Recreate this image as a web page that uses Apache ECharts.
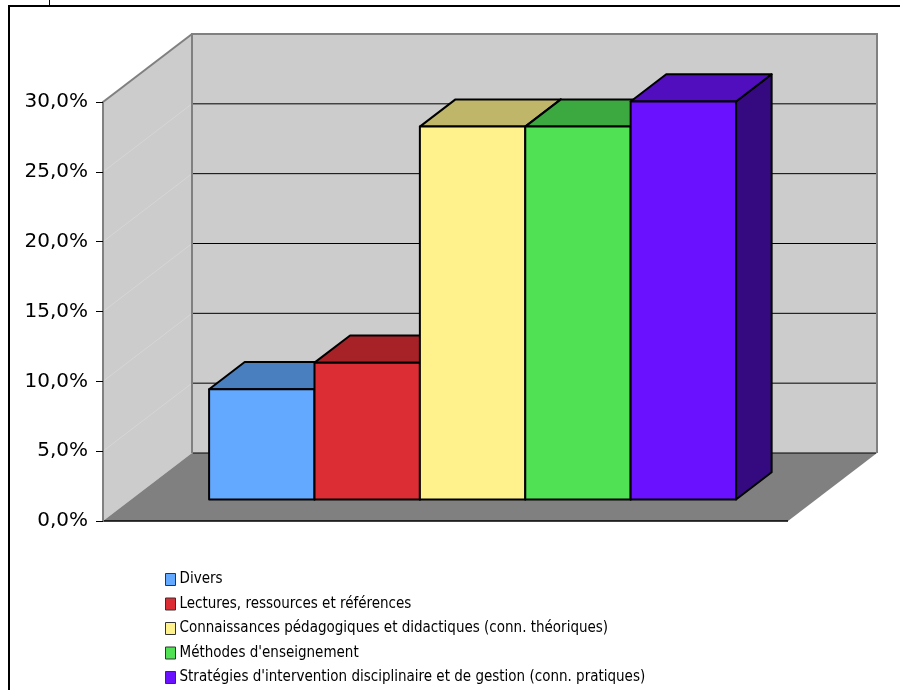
<!DOCTYPE html>
<html>
<head>
<meta charset="utf-8">
<script src="https://cdn.jsdelivr.net/npm/echarts@6/dist/echarts.min.js"></script>
<style>
  html, body { margin: 0; padding: 0; background: #fff; }
  #chart { width: 900px; height: 690px; }
</style>
</head>
<body>
<div id="chart"></div>
<script>
// Share of answers per category (percent)
const categories = [
  'Divers',
  'Lectures, ressources et références',
  'Connaissances pédagogiques et didactiques (conn. théoriques)',
  "Méthodes d'enseignement",
  "Stratégies d'intervention disciplinaire et de gestion (conn. pratiques)"
];
const values = [7.9, 9.8, 26.7, 26.7, 28.5];
const yTicks = [0, 5, 10, 15, 20, 25, 30];

// Face colours of each column: front, top, right side
const frontColors = ['#62A9FF', '#DD2D34', '#FFF28C', '#50E155', '#6A12FF'];
const topColors   = ['#4A7FBF', '#A62227', '#BFB669', '#3CA940', '#500EBF'];
const sideColors  = ['#315580', '#6F171A', '#807946', '#28712B', '#350980'];

// Oblique projection: screen offset of the full floor depth, in px
const DX = 89, DY = -68;
// Columns sit between these depth fractions
const BAR_FRONT = 0.316, BAR_BACK = 0.716;
// Horizontal extent of the floor in category units (one column = 1 unit)
const X_MIN = -1.24, X_MAX = 5.26;
const Y_MAX = yTicks[yTicks.length - 1];

function projector(api) {
  return function (x, y, d) {
    const c = api.coord([x, y]);
    return [c[0] + d * DX, c[1] + d * DY];
  };
}

function renderWalls(params, api) {
  const p = projector(api);
  const children = [];
  // left side wall
  children.push({
    type: 'polygon',
    shape: { points: [p(X_MIN, 0, 0), p(X_MIN, Y_MAX, 0), p(X_MIN, Y_MAX, 1), p(X_MIN, 0, 1)] },
    style: { fill: '#CCCCCC' }
  });
  // back wall
  children.push({
    type: 'polygon',
    shape: { points: [p(X_MIN, 0, 1), p(X_MIN, Y_MAX, 1), p(X_MAX, Y_MAX, 1), p(X_MAX, 0, 1)] },
    style: { fill: '#CCCCCC' }
  });
  // floor
  children.push({
    type: 'polygon',
    shape: { points: [p(X_MIN, 0, 0), p(X_MAX, 0, 0), p(X_MAX, 0, 1), p(X_MIN, 0, 1)] },
    style: { fill: '#808080' }
  });
  // faint gridlines on the side wall
  yTicks.forEach(function (t) {
    if (t > 0 && t < Y_MAX) {
      const a = p(X_MIN, t, 0), b = p(X_MIN, t, 1);
      children.push({
        type: 'line',
        shape: { x1: a[0], y1: a[1], x2: b[0], y2: b[1] },
        style: { stroke: '#D6D6D6', lineWidth: 1 }
      });
    }
  });
  // wall outlines
  children.push({
    type: 'polyline',
    shape: { points: [p(X_MIN, Y_MAX, 0), p(X_MIN, Y_MAX, 1)] },
    style: { stroke: '#808080', lineWidth: 2, fill: null }
  });
  children.push({
    type: 'polyline',
    shape: { points: [p(X_MIN, 0, 1), p(X_MIN, Y_MAX, 1), p(X_MAX, Y_MAX, 1), p(X_MAX, 0, 1)] },
    style: { stroke: '#808080', lineWidth: 2, fill: null }
  });
  // gridlines on the back wall
  yTicks.forEach(function (t) {
    if (t < Y_MAX) {
      const a = p(X_MIN, t, 1), b = p(X_MAX, t, 1);
      children.push({
        type: 'line',
        shape: { x1: a[0] + 1, y1: a[1], x2: b[0] - 1, y2: b[1] },
        style: { stroke: '#000000', lineWidth: 1 }
      });
    }
  });
  // front edge of the floor
  const f0 = p(X_MIN, 0, 0), f1 = p(X_MAX, 0, 0);
  children.push({
    type: 'line',
    shape: { x1: f0[0], y1: f0[1], x2: f1[0], y2: f1[1] },
    style: { stroke: '#000000', lineWidth: 1.5 }
  });
  return { type: 'group', children: children };
}

function makeBarRenderer(i) {
  return function (params, api) {
    const p = projector(api);
    const x = api.value(0), v = api.value(1);
    const x0 = x - 0.5, x1 = x + 0.5;
    const edge = { stroke: '#000000', lineWidth: 2, lineJoin: 'round' };
    return {
      type: 'group',
      children: [
        {
          type: 'polygon',
          shape: { points: [p(x1, 0, BAR_FRONT), p(x1, 0, BAR_BACK), p(x1, v, BAR_BACK), p(x1, v, BAR_FRONT)] },
          style: Object.assign({ fill: sideColors[i] }, edge)
        },
        {
          type: 'polygon',
          shape: { points: [p(x0, v, BAR_FRONT), p(x1, v, BAR_FRONT), p(x1, v, BAR_BACK), p(x0, v, BAR_BACK)] },
          style: Object.assign({ fill: topColors[i] }, edge)
        },
        {
          type: 'polygon',
          shape: { points: [p(x0, 0, BAR_FRONT), p(x1, 0, BAR_FRONT), p(x1, v, BAR_FRONT), p(x0, v, BAR_FRONT)] },
          style: Object.assign({ fill: frontColors[i] }, edge)
        }
      ]
    };
  };
}

const series = [{
  type: 'custom',
  name: 'walls',
  z: 1,
  silent: true,
  data: [[0, 0]],
  renderItem: renderWalls
}];
categories.forEach(function (name, i) {
  series.push({
    type: 'custom',
    name: name,
    z: 3 + i,
    itemStyle: { color: frontColors[i] },
    data: [[i, values[i]]],
    renderItem: makeBarRenderer(i)
  });
});

const chart = echarts.init(document.getElementById('chart'), null, { renderer: 'canvas' });
chart.setOption({
  animation: false,
  backgroundColor: '#ffffff',
  grid: { left: 103, top: 102, width: 685, bottom: 169, containLabel: false },
  xAxis: {
    type: 'value', min: X_MIN, max: X_MAX,
    show: false
  },
  yAxis: {
    type: 'value', min: 0, max: Y_MAX, interval: 5, z: 10,
    axisLine: { show: true, onZero: false, lineStyle: { color: '#808080', width: 2 } },
    axisTick: { show: true, length: 7, lineStyle: { color: '#000000', width: 1 } },
    splitLine: { show: false },
    axisLabel: {
      margin: 15, color: '#000000', fontSize: 20, fontFamily: 'DejaVu Sans',
      formatter: function (v) { return v.toFixed(1).replace('.', ',') + '%'; }
    }
  },
  legend: {
    orient: 'vertical',
    left: 160, top: 567, height: 140,
    icon: 'rect',
    itemWidth: 10, itemHeight: 12,
    itemGap: 9.5,
    textStyle: { fontFamily: "'DejaVu Sans Condensed', 'DejaVu Sans'", fontSize: 15, color: '#000000', padding: [0, 0, 0, -1] },
    data: categories.map(function (n) {
      return { name: n, itemStyle: { borderColor: '#333333', borderWidth: 1 } };
    }),
    selectedMode: false
  },
  graphic: [
    { type: 'rect', shape: { x: 9, y: 6, width: 1000, height: 1000 }, style: { fill: null, stroke: '#000000', lineWidth: 2 } },
    { type: 'line', shape: { x1: 49.5, y1: 0, x2: 49.5, y2: 6 }, style: { stroke: '#000000', lineWidth: 1 } }
  ],
  series: series
});
</script>
</body>
</html>
